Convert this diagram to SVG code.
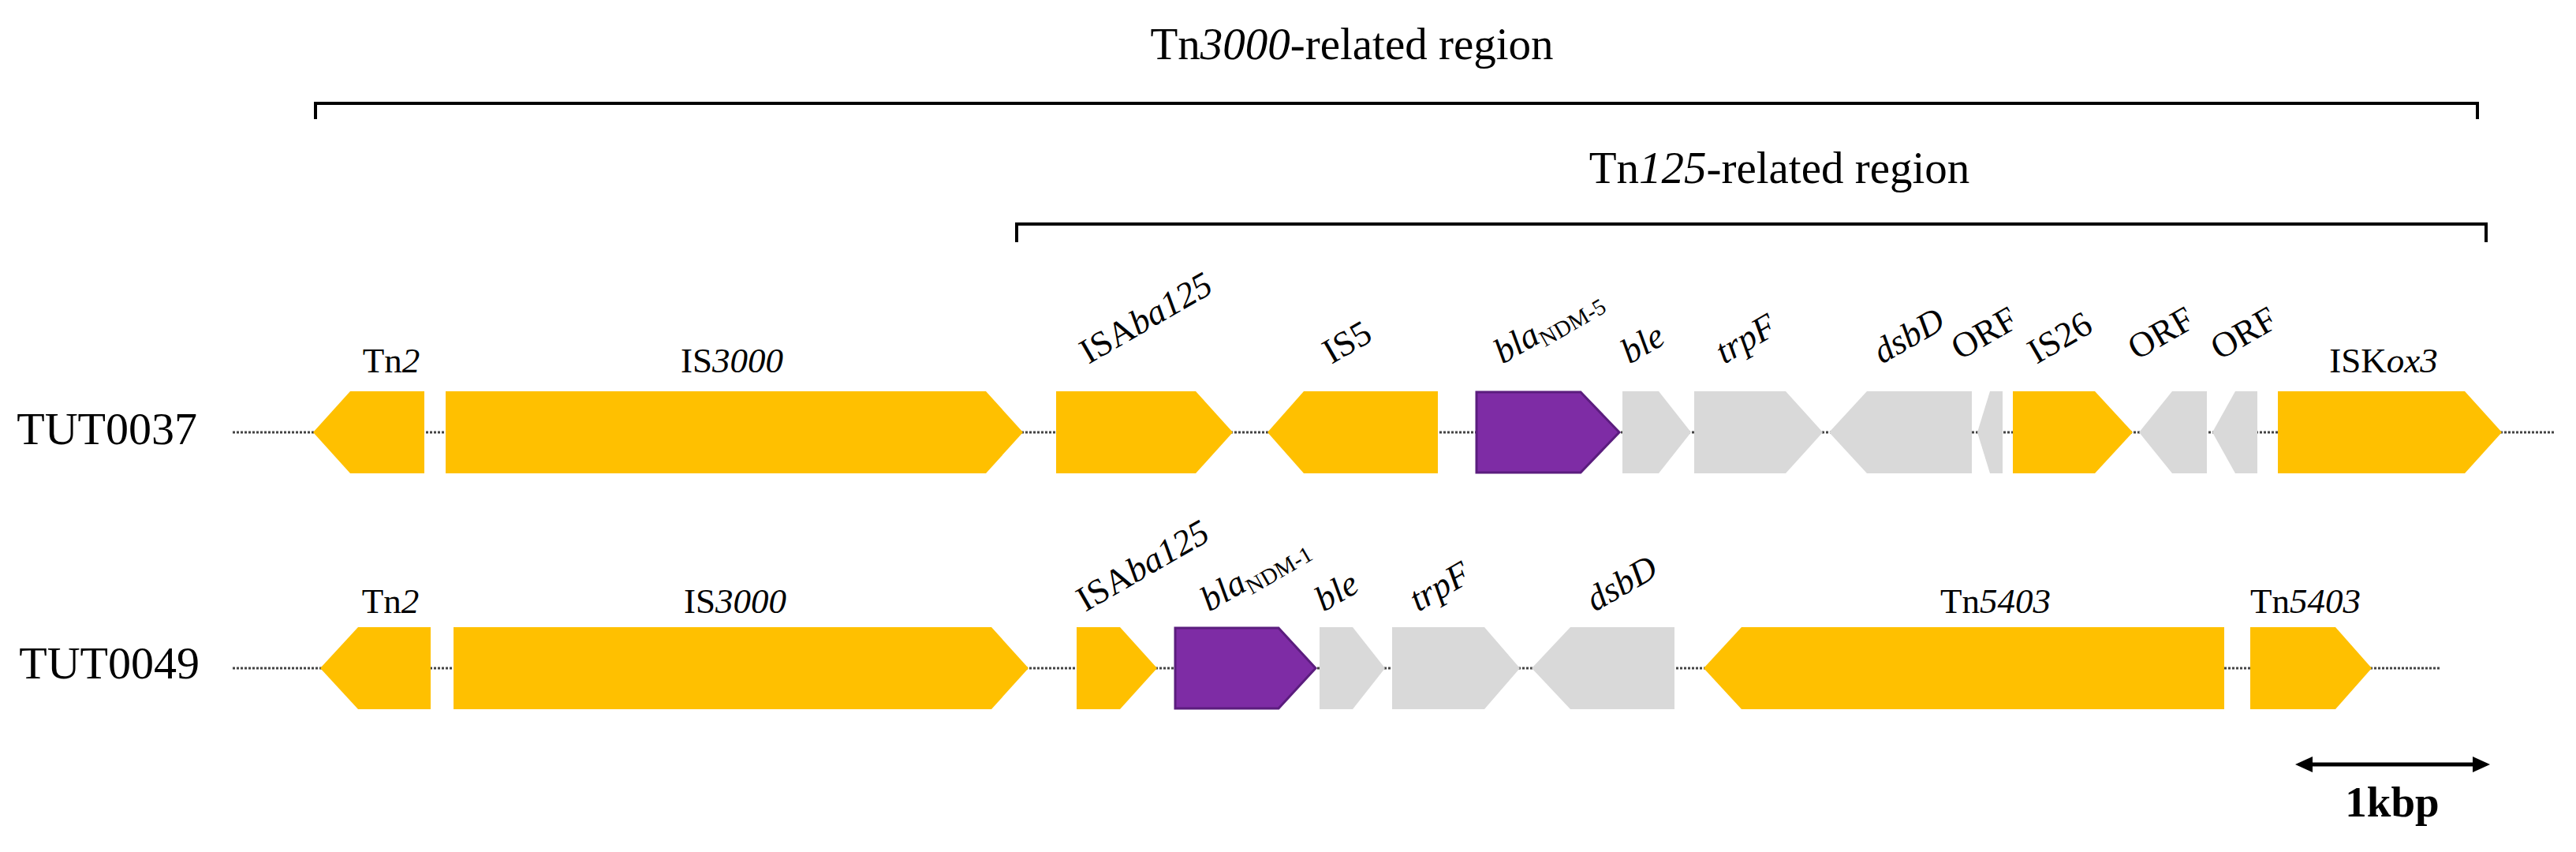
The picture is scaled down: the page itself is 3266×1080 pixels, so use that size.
<svg xmlns="http://www.w3.org/2000/svg" width="3266" height="1080" viewBox="0 0 3266 1080">
<style>
text{font-family:"Liberation Serif","Times New Roman",serif;fill:#000}
.lbl{font-size:45px}
.row{font-size:58px}
.title{font-size:57px}
.it{font-style:italic}
.sub{font-size:29px;font-style:normal}
.o{fill:#FFC000}
.g{fill:#D9D9D9}
.p{fill:#7E2CA5;stroke:#5B1D7E;stroke-width:3}
.bb{stroke:#444;stroke-width:3;stroke-dasharray:3 2;fill:none}
.br{stroke:#000;stroke-width:4;fill:none}
</style>
<rect width="3266" height="1080" fill="#fff"/>

<g id="connectors">
<line class="bb" x1="295" y1="548" x2="3240" y2="548"/>
<line class="bb" x1="295" y1="847" x2="3093" y2="847"/>
</g>

<g id="brackets">
<path class="br" d="M400 151 V131 H3141 V151"/>
<text class="title" x="1714" y="75" text-anchor="middle">Tn<tspan class="it">3000</tspan>-related region</text>
<path class="br" d="M1289 307 V284 H3152 V307"/>
<text class="title" x="2256" y="232" text-anchor="middle">Tn<tspan class="it">125</tspan>-related region</text>
</g>

<g id="row-labels">
<text class="row" x="250" y="563" text-anchor="end">TUT0037</text>
<text class="row" x="253" y="860" text-anchor="end">TUT0049</text>
</g>

<!-- Row 1: TUT0037 -->
<g id="r1-Tn2"><polygon class="o" points="397,548 444,496 538,496 538,600 444,600"/><text class="lbl" x="496" y="472" text-anchor="middle">Tn<tspan class="it">2</tspan></text></g>
<g id="r1-IS3000"><polygon class="o" points="565,496 1250,496 1297,548 1250,600 565,600"/><text class="lbl" x="928" y="472" text-anchor="middle">IS<tspan class="it">3000</tspan></text></g>
<g id="r1-ISAba125"><polygon class="o" points="1339,496 1516,496 1563,548 1516,600 1339,600"/><text class="lbl" transform="translate(1380,462) rotate(-30)">ISA<tspan class="it">ba125</tspan></text></g>
<g id="r1-IS5"><polygon class="o" points="1607,548 1653,496 1823,496 1823,600 1653,600"/><text class="lbl" transform="translate(1688,462) rotate(-30)">IS5</text></g>
<g id="r1-blaNDM5"><polygon class="p" points="1872,497 2004,497 2053,548 2004,599 1872,599"/><text class="lbl it" transform="translate(1905,462) rotate(-30)">bla<tspan class="sub" dy="8">NDM-5</tspan></text></g>
<g id="r1-ble"><polygon class="g" points="2057,496 2103,496 2144,548 2103,600 2057,600"/><text class="lbl it" transform="translate(2066,462) rotate(-30)">ble</text></g>
<g id="r1-trpF"><polygon class="g" points="2148,496 2264,496 2311,548 2264,600 2148,600"/><text class="lbl it" transform="translate(2186,462) rotate(-30)">trpF</text></g>
<g id="r1-dsbD"><polygon class="g" points="2319,548 2367,496 2500,496 2500,600 2367,600"/><text class="lbl it" transform="translate(2386,462) rotate(-30)">dsbD</text></g>
<g id="r1-ORF1"><polygon class="g" points="2507,548 2523,496 2539,496 2539,600 2523,600"/><text class="lbl" transform="translate(2485,457) rotate(-30)">ORF</text></g>
<g id="r1-IS26"><polygon class="o" points="2552,496 2656,496 2704,548 2656,600 2552,600"/><text class="lbl" transform="translate(2582,462) rotate(-30)">IS26</text></g>
<g id="r1-ORF2"><polygon class="g" points="2712,548 2754,496 2798,496 2798,600 2754,600"/><text class="lbl" transform="translate(2709,457) rotate(-30)">ORF</text></g>
<g id="r1-ORF3"><polygon class="g" points="2805,548 2834,496 2862,496 2862,600 2834,600"/><text class="lbl" transform="translate(2814,457) rotate(-30)">ORF</text></g>
<g id="r1-ISKox3"><polygon class="o" points="2888,496 3125,496 3172,548 3125,600 2888,600"/><text class="lbl" x="3022" y="472" text-anchor="middle">ISK<tspan class="it">ox3</tspan></text></g>

<!-- Row 2: TUT0049 -->
<g id="r2-Tn2"><polygon class="o" points="406,847 454,795 546,795 546,899 454,899"/><text class="lbl" x="495" y="777" text-anchor="middle">Tn<tspan class="it">2</tspan></text></g>
<g id="r2-IS3000"><polygon class="o" points="575,795 1257,795 1304,847 1257,899 575,899"/><text class="lbl" x="932" y="777" text-anchor="middle">IS<tspan class="it">3000</tspan></text></g>
<g id="r2-ISAba125"><polygon class="o" points="1365,795 1420,795 1467,847 1420,899 1365,899"/><text class="lbl" transform="translate(1376,776) rotate(-30)">ISA<tspan class="it">ba125</tspan></text></g>
<g id="r2-blaNDM1"><polygon class="p" points="1490,796 1621,796 1668,847 1621,898 1490,898"/><text class="lbl it" transform="translate(1533,776) rotate(-30)">bla<tspan class="sub" dy="8">NDM-1</tspan></text></g>
<g id="r2-ble"><polygon class="g" points="1673,795 1715,795 1756,847 1715,899 1673,899"/><text class="lbl it" transform="translate(1678,776) rotate(-30)">ble</text></g>
<g id="r2-trpF"><polygon class="g" points="1765,795 1882,795 1927,847 1882,899 1765,899"/><text class="lbl it" transform="translate(1798,776) rotate(-30)">trpF</text></g>
<g id="r2-dsbD"><polygon class="g" points="1942,847 1991,795 2123,795 2123,899 1991,899"/><text class="lbl it" transform="translate(2022,776) rotate(-30)">dsbD</text></g>
<g id="r2-Tn5403a"><polygon class="o" points="2160,847 2208,795 2820,795 2820,899 2208,899"/><text class="lbl" x="2530" y="777" text-anchor="middle">Tn<tspan class="it">5403</tspan></text></g>
<g id="r2-Tn5403b"><polygon class="o" points="2853,795 2961,795 3007,847 2961,899 2853,899"/><text class="lbl" x="2923" y="777" text-anchor="middle">Tn<tspan class="it">5403</tspan></text></g>

<g id="scale-bar">
<line x1="2925" y1="969" x2="3142" y2="969" stroke="#000" stroke-width="5"/>
<polygon points="2910,969 2932,959 2932,979" fill="#000"/>
<polygon points="3157,969 3135,959 3135,979" fill="#000"/>
<text x="3033" y="1035" text-anchor="middle" font-size="55" font-weight="bold">1kbp</text>
</g>
</svg>
